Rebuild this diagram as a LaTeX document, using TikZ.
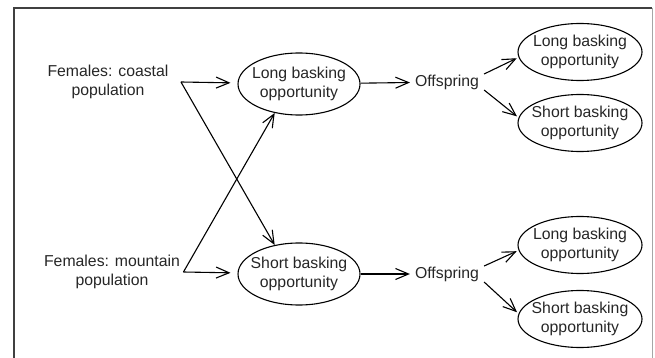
\documentclass[tikz,border=0pt]{standalone}
\usepackage{fontspec}
\setmainfont{Liberation Sans}
\usetikzlibrary{shapes.geometric,arrows.meta}
\begin{document}
\begin{tikzpicture}[x=1pt,y=-1pt,
    every node/.style={font=\fontsize{15.8}{18.3}\selectfont,text=black!85},
    oval/.style={draw,ellipse,line width=1.1pt,inner xsep=-8pt,inner ysep=0pt,
        minimum width=122pt,minimum height=62pt,align=center},
    arr/.style={-{Straight Barb[length=13pt,width=11pt]},line width=1.1pt}]
    \def\w{655}%width
    \def\h{358}%height
    \useasboundingbox (0,0) rectangle (\w,\h);
    \draw[line width=1.6pt,black!75] (14,\h+2)--(14,8)--(652,8);
    \draw[line width=1pt,black!35] (652,8)--(652,\h+2);
    \path
    foreach \n/\x/\y/\t in {fc/108/82/coastal,fm/112/272/mountain} {(\x,\y) node[align=center] (\n) {Females: \t\\population}}
    foreach \n/\y/\t in {l1/84/Long,s1/274/Short} {(299,\y) node[oval] (\n) {\t\ basking\\opportunity}}
    foreach \n/\y in {o1/82,o2/274} {(447,\y) node[inner sep=5pt] (\n) {Offspring}}
    foreach \n/\y/\t in {r1l/52/Long,r1s/123/Short,r2l/245/Long,r2s/319/Short} {(580,\y) node[oval,minimum width=124pt,minimum height=57pt] (\n) {\t\ basking\\opportunity}}
    ;
    \path (fc.east) ++(9,0) coordinate (fcout);
    \foreach \a/\b in {fcout/l1,fm.east/s1} \draw[arr,shorten >=7pt] (\a)--(\b);
    \foreach \a/\b in {l1/o1,s1/o2,fcout/s1.130,fm.east/l1.230} \draw[arr] (\a)--(\b);
    \foreach \o/\a/\b in {o1/r1l/r1s,o2/r2l/r2s}{
        \draw[arr,shorten >=2pt] ([yshift=8pt]\o.east)--(\a.185);
        \draw[arr,shorten >=2pt] ([yshift=-8pt]\o.east)--(\b.175);
    }
\end{tikzpicture}
\end{document}
